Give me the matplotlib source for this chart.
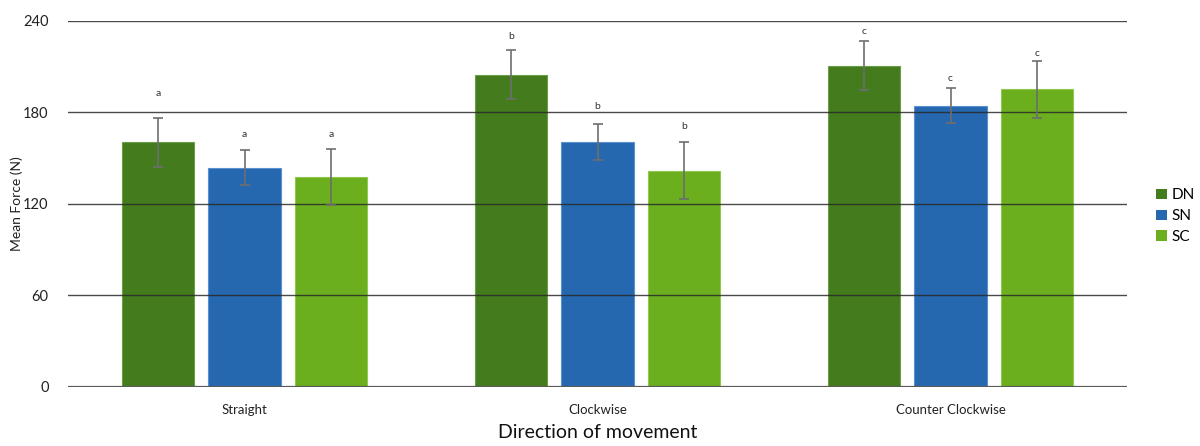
import matplotlib
matplotlib.use("Agg")
import matplotlib.pyplot as plt
import numpy as np
from matplotlib.patches import Patch

plt.rcParams['font.family'] = ['Lato', 'DejaVu Sans']

categories = ["Straight", "Clockwise", "Counter Clockwise"]
series = ["DN", "SN", "SC"]
values = {
    "DN": [160.3, 204.6, 210.6],
    "SN": [143.7, 160.2, 184.2],
    "SC": [137.8, 141.8, 195.1],
}
errors = {
    "DN": [16.0, 16.0, 16.0],
    "SN": [11.5, 11.8, 11.5],
    "SC": [18.4, 18.5, 18.6],
}
letters = {
    "DN": ["a", "b", "c"],
    "SN": ["a", "b", "c"],
    "SC": ["a", "b", "c"],
}
letter_y = {
    "DN": [192, 229.5, 233],
    "SN": [165.4, 184, 202],
    "SC": [165.4, 170.5, 218.2],
}
colors = {"DN": "#447b1c", "SN": "#2568b0", "SC": "#6baf1e"}
edges = {"DN": "#6a9e48", "SN": "#5a8fd0", "SC": "#8fca4e"}
yticks = [0, 60, 120, 180, 240]

fig = plt.figure(figsize=(12, 4.46), dpi=100)
ax = fig.add_axes([0.0567, 0.1323, 0.8825, 0.8213])

x = np.arange(len(categories))
width = 0.205
offsets = [-0.245, 0.0, 0.245]

for s, off in zip(series, offsets):
    ax.bar(x + off, values[s], width, color=colors[s], edgecolor=edges[s],
           linewidth=0.8, zorder=2)
    ax.errorbar(x + off, values[s], yerr=errors[s], fmt='none', ecolor='#6e6e6e',
                elinewidth=1.2, capsize=3.5, capthick=1.2, zorder=4)
    for xi, l, ly in zip(x + off, letters[s], letter_y[s]):
        ax.text(xi, ly, l, ha='center', va='center', fontsize=7.5, color='#333333', zorder=5)

for t in yticks[1:]:
    ax.axhline(t, color='#2a2a2a', linewidth=1.0, alpha=0.85, zorder=3)
ax.axhline(0, color='#5a5a5a', linewidth=1.6, zorder=3)

ax.set_xlim(-0.5, 2.5)
ax.set_ylim(0, 240)
ax.set_yticks(yticks)
ax.set_yticklabels([str(t) for t in yticks], fontsize=10.5, color='#222222')
ax.set_xticks(x)
ax.set_xticklabels(categories, fontsize=9.5, color='#222222')
ax.tick_params(axis='both', length=0)
ax.tick_params(axis='y', pad=14)
ax.tick_params(axis='x', pad=12)
for sp in ax.spines.values():
    sp.set_visible(False)

ax.set_ylabel("Mean Force (N)", fontsize=10, color='#222222')
ax.yaxis.set_label_coords(-0.043, 0.5)
ax.set_xlabel("Direction of movement", fontsize=14, color='#111111', labelpad=6)

handles = [Patch(facecolor=colors[s], edgecolor='none') for s in series]
fig.legend(handles, series, loc='center left', bbox_to_anchor=(0.957, 0.515),
           frameon=False, fontsize=11, handlelength=0.7, handleheight=0.7,
           handletextpad=0.3, labelspacing=0.45, borderpad=0)

fig.savefig("out.png", dpi=100)
